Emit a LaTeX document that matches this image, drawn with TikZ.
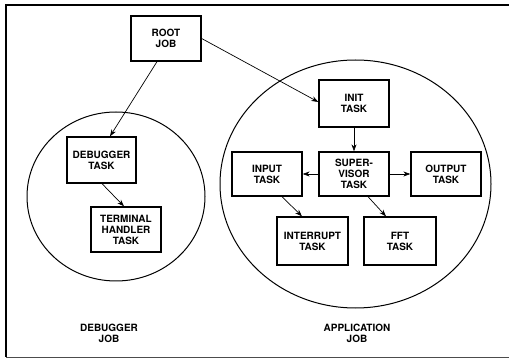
\documentclass[tikz,border=0pt]{standalone}
\usepackage{fontspec}
\setmainfont{TeX Gyre Heros}
\usetikzlibrary{arrows.meta}
\begin{document}
\begin{tikzpicture}[x=1pt,y=-1pt,
  taskbox/.style={draw,line width=1.3pt,minimum width=70pt,minimum height=45pt,inner sep=0pt,align=center,font=\fontsize{10}{11}\selectfont\bfseries},
  lbl/.style={align=center,font=\fontsize{10}{11}\selectfont\bfseries},
  conn/.style={line width=0.7pt,-{Stealth[length=7pt,width=5pt]}},
  jobcircle/.style={draw,line width=1pt}]
\useasboundingbox (0,0) rectangle (509,358);
\draw[line width=1.3pt] (509,5) -- (6,5) -- (6,357);
\draw[line width=0.8pt,black!70] (6,357) -- (509,357);

\draw[jobcircle] (116,196.5) ellipse [x radius=89, y radius=84.5];
\draw[jobcircle] (355.5,184) ellipse [x radius=135.5, y radius=124];

\node[taskbox] (root) at (166,38.5) {ROOT\\JOB};
\node[taskbox,minimum width=69pt,minimum height=46pt] (dbg) at (101.5,160) {DEBUGGER\\TASK};
\node[taskbox] (term) at (126,229.5) {TERMINAL\\HANDLER\\TASK};
\node[taskbox,minimum height=47pt] (init) at (354,103.5) {INIT\\TASK};
\node[taskbox,minimum height=44pt] (sup) at (354,174) {SUPER-\\VISOR\\TASK};
\node[taskbox,minimum height=44pt] (inp) at (267,174) {INPUT\\TASK};
\node[taskbox,minimum height=44pt] (out) at (446,174) {OUTPUT\\TASK};
\node[taskbox,minimum width=71pt,minimum height=48pt] (intr) at (312.5,241) {INTERRUPT\\TASK};
\node[taskbox,minimum width=72pt,minimum height=48pt] (fft) at (400,241) {FFT\\TASK};

\node[lbl] (dj) at (109,333) {DEBUGGER\\JOB};
\node[lbl] (aj) at (357,333) {APPLICATION\\JOB};

\coordinate (rootb) at ([xshift=-9pt]root.south);
\coordinate (dbgt) at ([xshift=8.5pt]dbg.north);
\draw[conn] (rootb) -- (dbgt);
\coordinate (initw) at ([yshift=1.5pt]init.west);
\draw[conn] (root.east) -- (initw);
\coordinate (dbgb) at ([xshift=0.5pt]dbg.south);
\coordinate (termt) at ([xshift=-2pt]term.north);
\draw[conn] (dbgb) -- (termt);
\draw[conn] (init.south) -- (sup.north);
\draw[conn] (sup.west) -- (inp.east);
\draw[conn] (sup.east) -- (out.west);
\coordinate (inpb) at ([xshift=15pt]inp.south);
\coordinate (intrt) at ([xshift=-10.5pt]intr.north);
\draw[conn] (inpb) -- (intrt);
\coordinate (supb) at ([xshift=14pt]sup.south);
\coordinate (fftt) at ([xshift=-14pt]fft.north);
\draw[conn] (supb) -- (fftt);
\end{tikzpicture}
\end{document}
